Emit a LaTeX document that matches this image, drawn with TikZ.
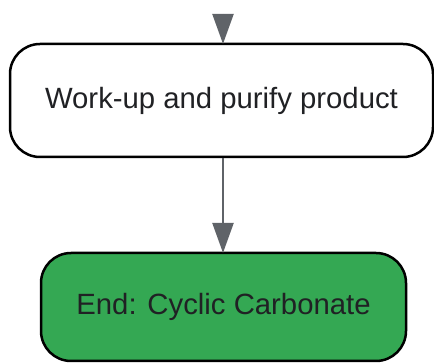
\documentclass[tikz,border=0pt]{standalone}
\usepackage{fontspec}
\setmainfont{Liberation Sans}
\usetikzlibrary{arrows.meta}
\definecolor{txt}{HTML}{202124}
\definecolor{grn}{HTML}{34A853}
\definecolor{arr}{HTML}{5F6368}
\tikzset{
  box/.style={draw=black, line width=2.5pt, rounded corners=30pt, inner sep=0pt,
    font=\fontsize{29.3}{35}\selectfont, text=txt},
  conn/.style={draw=arr, line width=2.2pt, -{Triangle[length=30pt,width=21pt]}},
}
\begin{document}
\begin{tikzpicture}[x=1pt,y=-1pt]
\useasboundingbox (0,0) rectangle (434,363);
\node[box, fill=white, minimum width=423pt, minimum height=113pt] (work) at (221.5,100.5) {Work-up and purify product};
\node[box, fill=grn, minimum width=365pt, minimum height=108pt] (endn) at (223.5,307) {End: Cyclic Carbonate};
\coordinate (top) at (223,14);
\draw[conn] (top) -- ([yshift=-1.2pt]work.north -| top);
\draw[conn] (work.south -| top) -- ([yshift=-1.2pt]endn.north -| top);
\end{tikzpicture}
\end{document}
